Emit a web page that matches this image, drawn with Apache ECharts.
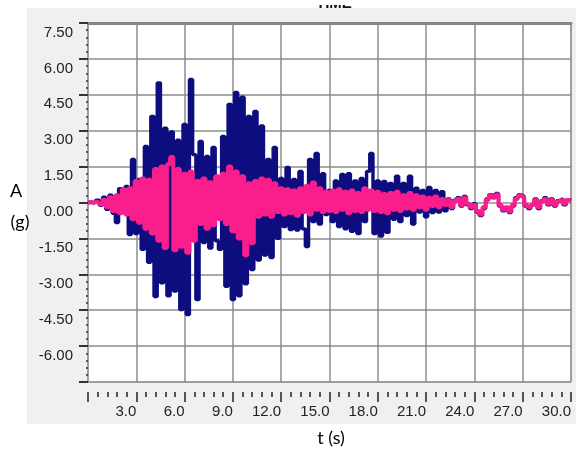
<!DOCTYPE html>
<html>
<head>
<meta charset="utf-8">
<script src="https://cdn.jsdelivr.net/npm/echarts@6/dist/echarts.min.js"></script>
<style>
html, body { margin: 0; padding: 0; background: #fff; }
#wrap { position: relative; width: 580px; height: 460px; }
#panel { position: absolute; left: 27px; top: 8px; width: 549px; height: 416px; background: #f0f0f0; }
#container1 { position: absolute; left: 0; top: 0; width: 580px; height: 460px; }
</style>
</head>
<body>
<div id="wrap">
<div id="panel"></div>
<div id="container1"></div>
</div>
<script>
var dom1 = document.getElementById("container1");
var myChart1 = echarts.init(dom1);

var step = 0.2; // s between samples
var blue = [
    0, 0.02, -0.03, 0.1, -0.12, 0.22, -0.28, 0.3, -0.45, -0.84,
    0.58, -0.4, 0.67, -1.34, 1.8, -1.3, 0.96, -1.96, 2.34, -2.5,
    3.6, -3.93, 5.0, -3.36, 3.1, -3.9, 2.95, -3.7, 2.6, -4.47,
    3.26, -4.68, 5.14, 2.0, -4.05, 2.55, -1.67, 1.92, -1.9, 2.3,
    -1.6, -1.96, 2.76, -3.5, 4.1, -4.05, 4.6, -3.9, 4.4, -3.4,
    3.6, -2.8, 3.8, -2.4, 3.2, -2.2, 1.8, -2.3, 2.3, -1.5,
    1.0, -1.0, 1.46, -1.13, 0.96, -1.15, 1.3, -1.1, -1.84, 1.8,
    -0.8, 2.05, -0.9, 1.2, -0.5, 0.5, -0.8, 0.9, -1.0, 1.17,
    -1.1, 1.2, -1.2, 0.9, -1.3, 1.0, -0.8, 1.3, 2.05, -1.3,
    0.9, -1.4, 0.88, -1.25, 0.8, -0.7, 1.1, -0.8, 0.8, -0.55,
    1.1, -0.9, 0.6, -0.4, 0.5, -0.6, 0.63, -0.42, 0.5, -0.4,
    0.45, -0.35, 0.15, -0.25, 0.1, 0.2, -0.15, 0.25, -0.1, -0.25,
    -0.05, -0.4, -0.55, -0.25, 0.15, 0.33, 0.25, 0.38, -0.15, -0.35,
    -0.25, -0.42, -0.15, 0.2, 0.32, 0.25, -0.15, -0.25, -0.12, 0.15,
    -0.25, 0.08, 0.2, -0.1, 0.15, -0.15, 0.08, 0.16, -0.1, 0.12,
    0.08
];
var pink = [
    0, 0.01, 0, 0.05, -0.08, 0.12, -0.2, 0.22, -0.35, 0.3,
    -0.45, 0.55, -0.5, 0.6, -0.7, 0.9, -0.85, 1.0, -1.1, 0.95,
    -1.3, 1.4, -1.6, 1.5, -1.9, 1.6, 1.9, -2.0, 1.4, -1.85,
    1.2, -2.1, 1.3, -1.6, 0.9, -0.9, 1.0, -1.1, 0.85, -0.95,
    1.1, -0.7, 1.2, -0.9, 1.5, -1.2, 1.3, -1.5, 1.1, -2.2,
    0.8, -1.7, 0.9, -0.6, 1.0, -0.5, 0.95, -0.6, 0.8, -0.4,
    0.6, -0.5, 0.55, -0.45, 0.5, -0.55, 0.6, -0.4, 0.7, -0.5,
    0.84, -0.3, 0.6, -0.4, 0.45, -0.35, 0.5, -0.4, 0.55, -0.3,
    0.45, -0.45, 0.5, -0.35, 0.4, -0.4, 0.6, -0.3, 0.5, -0.35,
    0.45, -0.4, 0.35, -0.45, 0.4, -0.3, 0.45, -0.35, 0.3, -0.25,
    0.4, -0.3, 0.3, -0.2, 0.25, -0.3, 0.2, -0.15, 0.25, -0.2,
    0.15, -0.1, 0.1, -0.2, 0.05, 0.15, -0.1, 0.2, -0.05, -0.2,
    -0.1, -0.35, -0.5, -0.2, 0.1, 0.3, 0.2, 0.33, -0.1, -0.3,
    -0.2, -0.38, -0.1, 0.15, 0.28, 0.2, -0.1, -0.2, -0.1, 0.1,
    -0.2, 0.05, 0.15, -0.05, 0.1, -0.1, 0.05, 0.12, -0.05, 0.1,
    0.05
];
var xTicks = [0, 30, 3];      // min, max, interval (s)
var yTicks = [-7.5, 7.5, 1.5]; // min, max, interval (g)

function toPairs(arr){
    var out = [];
    for(var i=0;i<arr.length;i++){
        out.push([+(i*step).toFixed(1), arr[i]]);
    }
    return out;
}

var labelFont = 'Liberation Sans, Arial, sans-serif';
var option1 = {
    animation: false,
    backgroundColor: 'transparent',
    grid: {
        left: 88,
        right: 9,
        top: 23,
        bottom: 78,
        show: true,
        backgroundColor: '#fff',
        borderColor: '#acacac',
        borderWidth: 1,
        outerBoundsMode: 'none'
    },
    graphic: [
        { type: 'text', left: 316, top: -4, style: { text: 'TIME', font: 'bold 15px Liberation Sans', fill: '#111' } },
        { type: 'rect', z: 100, shape: { x: 280, y: 0, width: 120, height: 5 }, style: { fill: '#fff' } },
        { type: 'text', x: 16, y: 191, style: { text: 'A', font: '18px Lato', fill: '#000', align: 'center', verticalAlign: 'middle' } },
        { type: 'text', x: 20, y: 222, style: { text: '(g)', font: '18px Lato', fill: '#000', align: 'center', verticalAlign: 'middle' } },
        { type: 'text', x: 331, y: 438, style: { text: 't (s)', font: '18px Lato', fill: '#000', align: 'center', verticalAlign: 'middle' } }
    ],
    xAxis: [
        {
            type: 'value',
            min: xTicks[0],
            max: xTicks[1],
            interval: xTicks[2],
            offset: 10,
            axisLine: { show: true, onZero: false, lineStyle: { color: 'rgba(0,0,0,0)' } },
            axisTick: { show: true, length: 10, lineStyle: { color: '#222', width: 1.5 } },
            minorTick: { show: true, splitNumber: 5, length: 5, lineStyle: { color: '#222', width: 1.5 } },
            splitLine: { show: true, lineStyle: { color: '#8c8c8c', width: 1.5 } },
            axisLabel: {
                showMinLabel: false,
                align: 'right',
                margin: 12,
                color: '#222',
                fontSize: 15,
                fontFamily: labelFont,
                formatter: function(v){ return v.toFixed(1); }
            }
        },
        {
            type: 'value',
            position: 'top',
            min: xTicks[0],
            max: xTicks[1],
            axisLine: { show: true, onZero: false, lineStyle: { color: '#858585', width: 3 } },
            axisTick: { show: false },
            axisLabel: { show: false },
            splitLine: { show: false }
        }
    ],
    yAxis: {
        type: 'value',
        position: 'left',
        min: yTicks[0],
        max: yTicks[1],
        interval: yTicks[2],
        axisLine: { show: true, onZero: false, lineStyle: { color: 'rgba(0,0,0,0)' } },
        axisTick: { show: true, length: 9, lineStyle: { color: '#333', width: 2 } },
        minorTick: { show: true, splitNumber: 5, length: 2, lineStyle: { color: '#333', width: 1.5 } },
        splitLine: { show: true, lineStyle: { color: '#8c8c8c', width: 1.5 } },
        axisLabel: {
            showMinLabel: false,
            margin: 15,
            verticalAlign: 'top',
            padding: [2, 0, 0, 0],
            color: '#222',
            fontSize: 15,
            fontFamily: labelFont,
            formatter: function(v){ return v.toFixed(2); }
        }
    },
    series: [
        {
            type: 'line',
            step: 'middle',
            symbol: 'none',
            data: toPairs(blue),
            lineStyle: { color: '#0d0d80', width: 3.4 }
        },
        {
            type: 'line',
            step: 'middle',
            symbol: 'none',
            data: toPairs(pink),
            lineStyle: { color: '#fa1e8c', width: 4 }
        }
    ]
};
myChart1.setOption(option1);
</script>
</body>
</html>
